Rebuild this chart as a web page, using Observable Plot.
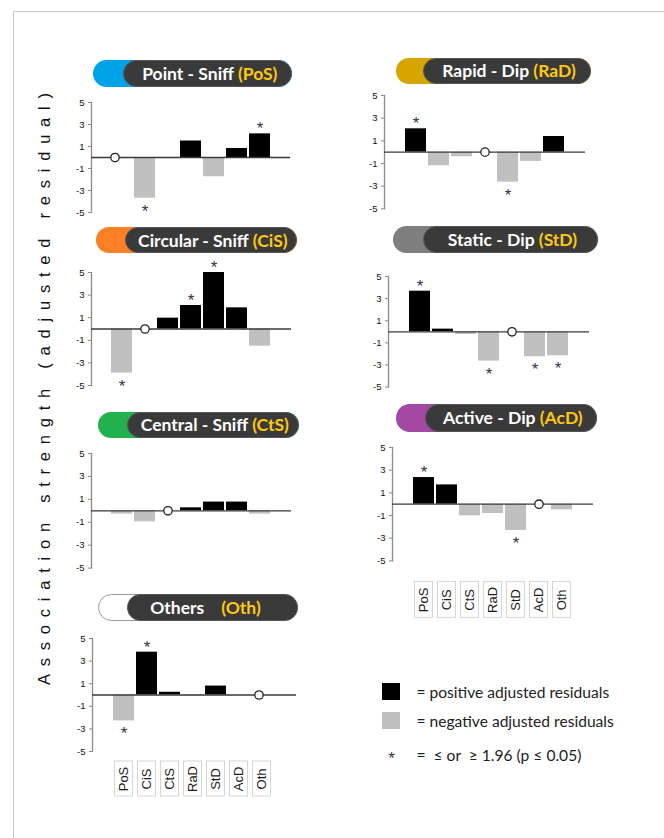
<!DOCTYPE html>
<html><head><meta charset="utf-8">
<script src="https://cdn.jsdelivr.net/npm/d3@7"></script>
<script src="https://cdn.jsdelivr.net/npm/@observablehq/plot@0.6"></script>
<style>
body{margin:0;background:#fff}
#fig{position:relative;width:664px;height:838px;overflow:hidden;background:#fff;font-family:Arial,"Liberation Sans",sans-serif}
.abs{position:absolute}
.pill-dark{display:flex;align-items:center;justify-content:center;color:#fff;font-family:Lato,"Open Sans",sans-serif;font-weight:700;font-size:17.5px;white-space:pre;box-sizing:border-box;border:1px solid #555}
</style></head><body><div id="fig"></div>
<script>
// ---- data ----
const categories = ["PoS","CiS","CtS","RaD","StD","AcD","Oth"];
const yTicks = [5,3,1,-1,-3,-5];
const panelCodes = ["PoS","CiS","CtS","Oth","RaD","StD","AcD"];
const panelTitles = ["Point - Sniff","Circular - Sniff","Central - Sniff","Others","Rapid - Dip","Static - Dip","Active - Dip"];
const residualsPoS = [null,-3.7,0,1.5,-1.75,0.82,2.15];
const residualsCiS = [-3.9,null,0.96,2.08,5.0,1.87,-1.52];
const residualsCtS = [-0.29,-0.96,null,0.26,0.76,0.76,-0.29];
const residualsOth = [-2.29,3.79,0.24,-0.1,0.79,0,null];
const residualsRaD = [2.06,-1.2,-0.41,null,-2.65,-0.82,1.38];
const residualsStD = [3.67,0.24,-0.24,-2.65,null,-2.26,-2.17];
const residualsAcD = [2.35,1.7,-1.03,-0.82,-2.32,null,-0.5];
const significantPoS = ["CiS","Oth"];
const significantCiS = ["PoS","RaD","StD"];
const significantCtS = [];
const significantOth = ["PoS","CiS"];
const significantRaD = ["PoS","StD"];
const significantStD = ["PoS","RaD","AcD","Oth"];
const significantAcD = ["PoS","StD"];
const legendTexts = ["= positive adjusted residuals","= negative adjusted residuals","=  \u2264 or  \u2265 1.96 (p \u2264 0.05)"];
const yTitle = "Association strength (adjusted residual)";

const residuals = {PoS:residualsPoS,CiS:residualsCiS,CtS:residualsCtS,Oth:residualsOth,RaD:residualsRaD,StD:residualsStD,AcD:residualsAcD};
const significant = {PoS:significantPoS,CiS:significantCiS,CtS:significantCtS,Oth:significantOth,RaD:significantRaD,StD:significantStD,AcD:significantAcD};

// ---- layout ----
const layout = {
  PoS:{axisX:91,zeroEnd:290,c0:119.8,c6:261.5,y5:101.7,ym5:211.7,pill:[93.3,292.3,123.3,59.5,86.7],color:"#00a2e8",selfDx:-7,pad:[4,0]},
  CiS:{axisX:90.7,zeroEnd:290.7,c0:119.2,c6:261.7,y5:271.7,ym5:384.7,pill:[96,296.7,125,227,253.3],color:"#ff7f27",selfDx:0,pad:[4,0]},
  CtS:{axisX:90.7,zeroEnd:290.7,c0:119.2,c6:261.3,y5:452.7,ym5:567.3,pill:[97.7,299,126.7,411.7,438.3],color:"#22b14c",selfDx:0,pad:[4,0]},
  Oth:{axisX:91.7,zeroEnd:296,c0:121.8,c6:262.5,y5:637.7,ym5:750.7,pill:[98.3,298.3,126.7,594,620.7],color:"#ffffff",labels:{gap:10,h:35},selfDx:-3,pad:[0,14]},
  RaD:{axisX:384.3,zeroEnd:585.7,c0:413.7,c6:555.8,y5:95,ym5:208.3,pill:[396,590.7,423.3,57.7,84.3],color:"#d6a500",selfDx:0,pad:[4,0]},
  StD:{axisX:388.3,zeroEnd:589.3,c0:417,c6:560,y5:275.7,ym5:386.3,pill:[393.3,598.3,422.7,226,252.7],color:"#7f7f7f",selfDx:0,pad:[4,0]},
  AcD:{axisX:391.7,zeroEnd:592.3,c0:420.5,c6:563,y5:447.3,ym5:560.7,pill:[396,596.7,425,404,431.7],color:"#a349a4",labels:{gap:21,h:36},selfDx:0,pad:[4,0]}
};

const fig = document.getElementById("fig");

// background svg: frame lines, y title, legend
const bg = d3.select(fig).append("svg").attr("class","abs").style("left","0px").style("top","0px")
  .attr("width",664).attr("height",838);
bg.append("line").attr("x1",13.5).attr("x2",664).attr("y1",11.5).attr("y2",11.5).attr("stroke","#c8c8c8");
bg.append("line").attr("x1",13.5).attr("x2",13.5).attr("y1",11.5).attr("y2",838).attr("stroke","#c8c8c8");
bg.append("text").attr("transform","translate(49.5,389) rotate(-90)").attr("text-anchor","middle")
  .attr("font-family","Arial, 'Liberation Sans', sans-serif").attr("font-size",16.5).attr("fill","#111")
  .attr("textLength",592).attr("lengthAdjust","spacing").text(yTitle);

// legend
bg.append("rect").attr("x",382).attr("y",683).attr("width",18).attr("height",17).attr("fill","#000");
bg.append("rect").attr("x",382).attr("y",712).attr("width",18).attr("height",17).attr("fill","#c0c0c0");
bg.append("text").attr("x",391.5).attr("y",764).attr("text-anchor","middle").attr("font-family","Arial").attr("font-size",17).attr("fill","#333344").text("*");
legendTexts.forEach((t,i)=>{
  bg.append("text").attr("x",416.5).attr("y",[697.5,727,760.5][i]).attr("font-family","Lato, 'Open Sans', sans-serif")
    .attr("font-size",15.6).attr("fill","#222").style("white-space","pre").attr("xml:space","preserve").text(t);
});

// panels
panelCodes.forEach((code,k)=>{
  const cfg = layout[code];
  const vals = residuals[code], sig = significant[code];
  const lab = cfg.labels;
  const mL = 31, mR = 4, mT = 10, mB = lab ? lab.gap + lab.h + 6 : 12;
  const L = cfg.axisX - mL;
  const width = Math.round(cfg.zeroEnd + mR - L);
  const H = cfg.ym5 - cfg.y5;
  const height = H + mT + mB;
  const s = (cfg.c6 - cfg.c0)/6, p = 0.09;
  const a = cfg.c0 - s*(1-p)/2 - L, b = cfg.c6 + s*(1-p)/2 - L;
  const data = categories.map((c,i)=>({cat:c, v:vals[i], sig:sig.includes(c)}));
  const bars = data.filter(d=>d.v!=null);
  const marks = [];
  if (lab) {
    marks.push(Plot.cell(categories,{x:d=>d, insetTop:H+lab.gap, insetBottom:-(lab.gap+lab.h), insetLeft:1.5, insetRight:1.5, fill:"white", stroke:"#d6d6d6"}));
    marks.push(Plot.text(categories,{x:d=>d, frameAnchor:"bottom", dy:lab.gap+lab.h/2, rotate:-90, fontSize:13, fill:"#1a1a1a", lineAnchor:"middle", textAnchor:"middle", fontFamily:"Arial"}));
  }
  marks.push(
    Plot.barY(bars.filter(d=>d.v>=0),{x:"cat", y:"v", fill:"#000"}),
    Plot.barY(bars.filter(d=>d.v<0),{x:"cat", y:"v", fill:"#c0c0c0"}),
    Plot.frame({anchor:"left", stroke:"#8a8a8a", strokeWidth:1.3}),
    Plot.ruleY([0],{stroke:"#3a3a3a", strokeWidth:1.3}),
    Plot.dot(data.filter(d=>d.v==null),{x:"cat", y:()=>0, dx:cfg.selfDx, r:4.2, fill:"white", stroke:"#222", strokeWidth:1.3}),
    Plot.text(bars.filter(d=>d.sig && d.v>=0),{x:"cat", y:"v", text:()=>"*", dy:-5, fontSize:17, fill:"#333344", lineAnchor:"middle", fontFamily:"Arial"}),
    Plot.text(bars.filter(d=>d.sig && d.v<0),{x:"cat", y:"v", text:()=>"*", dy:13, fontSize:17, fill:"#333344", lineAnchor:"middle", fontFamily:"Arial"}),
    Plot.axisY({ticks:yTicks, tickSize:3, tickPadding:4, fontSize:9.5, fill:"#111", label:null, stroke:"#8a8a8a", tickFormat:d=>String(d)})
  );
  const chart = Plot.plot({
    width, height, marginLeft:mL, marginRight:mR, marginTop:mT, marginBottom:mB,
    x:{type:"band", domain:categories, range:[a,b], paddingInner:p, paddingOuter:0, axis:null},
    y:{domain:[-5,5], axis:null},
    style:{fontFamily:"Arial, 'Liberation Sans', sans-serif", color:"#222", background:"transparent", overflow:"visible"},
    marks
  });
  chart.classList.add("abs");
  chart.style.left = L + "px";
  chart.style.top = (cfg.y5 - mT) + "px";
  fig.appendChild(chart);

  // title pill
  const [x0,x1,xd,y0,y1] = cfg.pill;
  const h = y1 - y0;
  const c = document.createElement("div");
  c.className = "abs";
  Object.assign(c.style,{left:x0+"px",top:y0+"px",width:(x1-x0)+"px",height:h+"px",borderRadius:(h/2)+"px",background:cfg.color,boxSizing:"border-box",border: code==="Oth" ? "1.3px solid #9a9a9a" : "none"});
  fig.appendChild(c);
  const dk = document.createElement("div");
  dk.className = "abs pill-dark";
  Object.assign(dk.style,{left:xd+"px",top:y0+"px",width:(x1-xd)+"px",height:h+"px",borderRadius:(h/2)+"px",background:"#3a3a3a",paddingLeft:cfg.pad[0]+"px",paddingRight:cfg.pad[1]+"px"});
  const t1 = document.createElement("span"); t1.textContent = panelTitles[k] + (code==="Oth" ? "    " : " ");
  const t2 = document.createElement("span"); t2.textContent = "(" + code + ")"; t2.style.color = "#ffc90e";
  dk.appendChild(t1); dk.appendChild(t2);
  fig.appendChild(dk);
});
</script></body></html>
